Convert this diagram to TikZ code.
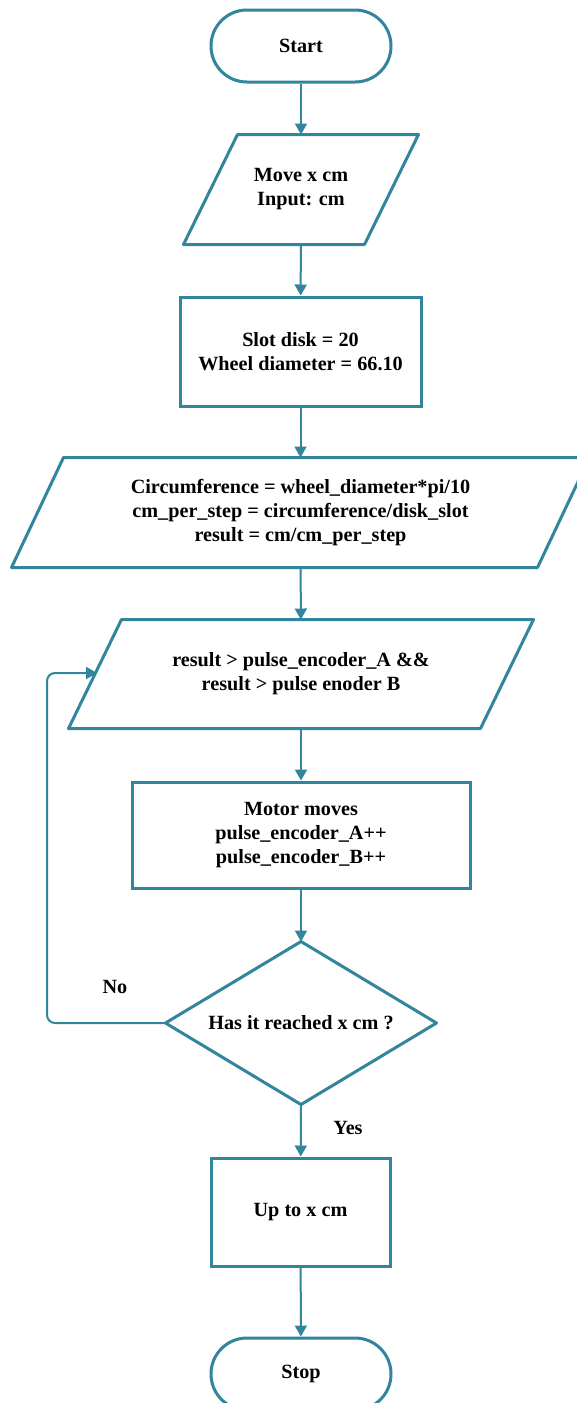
\documentclass[tikz,border=0pt]{standalone}
\usepackage{fontspec}
\setmainfont{Liberation Serif}
\usetikzlibrary{arrows.meta}
\definecolor{tealc}{RGB}{49,133,156}
\begin{document}
\begin{tikzpicture}[x=1pt,y=-1pt,
  txt/.style={inner sep=0pt, outer sep=1.5pt, align=center, font=\fontsize{20.2}{24}\selectfont\bfseries},
  boxed/.style={txt, draw=tealc, line width=3pt, fill=white},
  term/.style={boxed, rounded corners=35.9pt, minimum width=180pt, minimum height=72pt},
  shp/.style={draw=tealc, line width=3pt, line join=round},
  arr/.style={draw=tealc, line width=2pt, -{Triangle[length=11pt,width=12pt]}},
  lbl/.style={inner sep=0pt, font=\fontsize{20.2}{24}\selectfont\bfseries}]
\useasboundingbox (0,0) rectangle (577,1403);
\fill[white] (0,0) rectangle (577,1403);
% nodes
\node[term] (S) at (301,46) {Start};
\node[txt, minimum width=232pt, minimum height=107pt] (P1) at (301,189.5) {Move x cm\\Input: cm};
\draw[shp] ([xshift=54pt]P1.north west) -- (P1.north east) -- ([xshift=-54pt]P1.south east) -- (P1.south west) -- cycle;
\node[boxed, minimum width=241pt, minimum height=109pt] (R1) at (300.5,351.5) {Slot disk = 20\\Wheel diameter = 66.10};
\node[txt, minimum width=575pt, minimum height=107pt] (P2) at (300.5,512.5) {Circumference = wheel\_diameter*pi/10\\cm\_per\_step = circumference/disk\_slot\\result = cm/cm\_per\_step};
\draw[shp] ([xshift=52pt]P2.north west) -- (P2.north east) -- ([xshift=-52pt]P2.south east) -- (P2.south west) -- cycle;
\node[txt, minimum width=462pt, minimum height=106pt] (P3) at (301,674) {result > pulse\_encoder\_A \&\&\\result > pulse enoder B};
\draw[shp] ([xshift=53pt]P3.north west) -- (P3.north east) -- ([xshift=-53pt]P3.south east) -- (P3.south west) -- cycle;
\node[boxed, minimum width=338pt, minimum height=106pt] (R2) at (301,835) {Motor moves\\pulse\_encoder\_A++\\pulse\_encoder\_B++};
\node[txt, minimum width=268pt, minimum height=160pt] (D) at (301,1023) {Has it reached x cm ?};
\draw[shp] (D.north) -- (D.east) -- (D.south) -- (D.west) -- cycle;
\node[boxed, minimum width=179pt, minimum height=108pt] (R3) at (300.5,1212) {Up to x cm};
\node[term] (E) at (301,1374) {Stop};
\node[lbl] (no) at (115,987) {No};
\node[lbl] (yes) at (348,1128) {Yes};
\coordinate (c1) at (47,1023);
\coordinate (c2) at (47,673);
\coordinate (loopin) at (97,673);
% connectors
\draw[arr] (S) -- (P1);
\draw[arr] (P1) -- (R1);
\draw[arr] (R1) -- (P2);
\draw[arr] (P2) -- (P3);
\draw[arr] (P3) -- (R2);
\draw[arr] (R2) -- (D.north);
\draw[arr] (D.south) -- (R3);
\draw[arr] (R3) -- (E);
\draw[arr, rounded corners=8pt] (D.west) -- (c1) -- (c2) -- (loopin);
\end{tikzpicture}
\end{document}
